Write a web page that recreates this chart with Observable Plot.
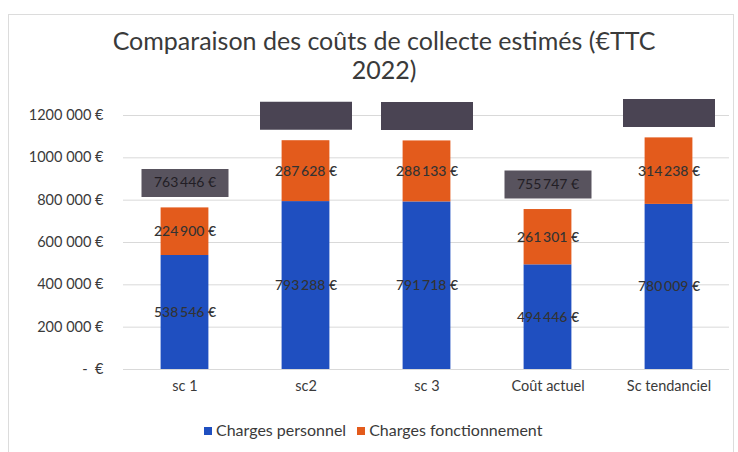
<!DOCTYPE html>
<html>
<head>
<meta charset="utf-8">
<script src="https://cdn.jsdelivr.net/npm/d3@7"></script>
<script src="https://cdn.jsdelivr.net/npm/@observablehq/plot@0.6"></script>
<style>
  body { margin: 0; background: #fff; font-family: Lato, "Open Sans", sans-serif; }
  #wrap { position: relative; width: 738px; height: 452px; overflow: hidden; }
  #frame { position: absolute; left: 8px; top: 14px; width: 726px; height: 450px; border: 1px solid #dcdcdc; box-sizing: border-box; }
  #title { position: absolute; left: 384px; top: 26px; transform: translateX(-50%); white-space: nowrap;
           text-align: center; font-size: 25px; line-height: 29px; color: #3a3a3a; }
  #chart { position: absolute; left: 0; top: 90px; }
  #legend { position: absolute; left: 204px; top: 420px; display: flex; gap: 11px; font-size: 16px; color: #3a3a3a; }
  #legend span.sw { display: inline-block; width: 8px; height: 8px; margin-right: 4px; vertical-align: 1px; }
</style>
</head>
<body>
<div id="wrap">
  <div id="frame"></div>
  <div id="title">Comparaison des coûts de collecte estimés (€TTC<br>2022)</div>
  <div id="chart"></div>
  <div id="legend"></div>
</div>
<script>
const categories = ["sc 1", "sc2", "sc 3", "Coût actuel", "Sc tendanciel"];
const chargesPersonnel = [538546, 793288, 791718, 494446, 780009];
const chargesFonctionnement = [224900, 287628, 288133, 261301, 314238];
const totalRedacted = [false, true, true, false, true];
const seriesNames = ["Charges personnel", "Charges fonctionnement"];
const seriesColors = ["#1f4fc0", "#e35b1c"];
const yTickValues = [0, 200000, 400000, 600000, 800000, 1000000, 1200000];
const yTickLabels = ["-  €", "200 000 €", "400 000 €", "600 000 €", "800 000 €", "1000 000 €", "1200 000 €"];

const fmt = v => d3.format(",")(v).replace(/,/g, "\u2009") + " €";

const rows = [];
categories.forEach((c, i) => {
  rows.push({cat: c, series: seriesNames[0], value: chargesPersonnel[i]});
  rows.push({cat: c, series: seriesNames[1], value: chargesFonctionnement[i]});
});
const totals = categories.map((c, i) => ({
  cat: c,
  total: chargesPersonnel[i] + chargesFonctionnement[i],
  redacted: totalRedacted[i]
}));

const boxSymbol = (w, h) => ({ draw(ctx) { ctx.rect(-w / 2, -h / 2, w, h); } });

const chart = Plot.plot({
  width: 738,
  height: 320,
  marginLeft: 123,
  marginRight: 9,
  marginTop: 25,
  marginBottom: 41,
  style: { fontFamily: "Lato, 'Open Sans', sans-serif", color: "#3a3a3a", background: "transparent" },
  x: { domain: categories, padding: 0, label: null },
  y: { domain: [0, 1200000], label: null },
  color: { domain: seriesNames, range: seriesColors },
  marks: [
    Plot.ruleY(yTickValues, { stroke: "#d9d9d9", strokeWidth: 1 }),
    Plot.axisY({ ticks: yTickValues, tickFormat: d => yTickLabels[yTickValues.indexOf(d)], tickSize: 0, tickPadding: 20, fontSize: 14.5, label: null }),
    Plot.axisX({ tickSize: 0, tickPadding: 11, fontSize: 14.5, label: null }),
    Plot.barY(rows, Plot.stackY({ x: "cat", y: "value", z: "series", fill: "series", insetLeft: 36.6, insetRight: 36.6, order: seriesNames })),
    Plot.text(rows, Plot.stackY({ x: "cat", y: "value", z: "series", text: d => fmt(d.value), fill: "#333333", fontSize: 14, fontWeight: 500, order: seriesNames })),
    Plot.dot(totals.filter(d => !d.redacted), { x: "cat", y: "total", r: 5, dy: -25, symbol: boxSymbol(87, 28), fill: "#58535e", stroke: "none" }),
    Plot.dot(totals.filter(d => d.redacted), { x: "cat", y: "total", r: 5, dy: -25, symbol: boxSymbol(92, 28), fill: "#4a4453", stroke: "none" }),
    Plot.text(totals.filter(d => !d.redacted), { x: "cat", y: "total", dy: -25, text: d => fmt(d.total), fill: "#221e25", fontSize: 14 })
  ]
});
document.getElementById("chart").appendChild(chart);

const legend = document.getElementById("legend");
seriesNames.forEach((s, i) => {
  const item = document.createElement("div");
  item.innerHTML = `<span class="sw" style="background:${seriesColors[i]}"></span>${s}`;
  legend.appendChild(item);
});
</script>
</body>
</html>
